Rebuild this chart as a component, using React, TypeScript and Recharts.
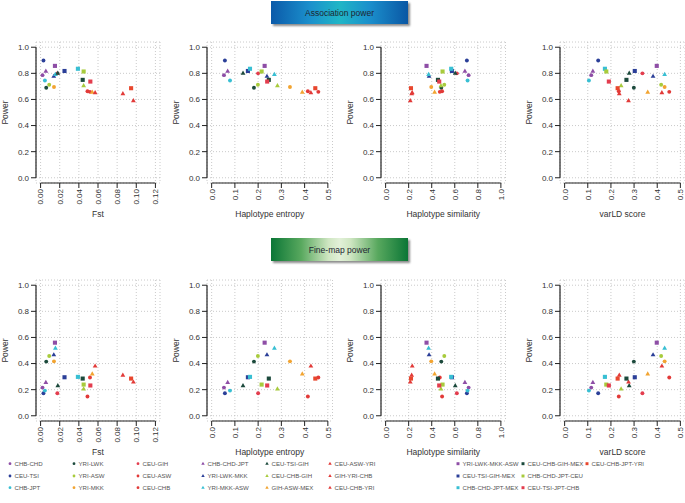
import React from 'react';
import { ScatterChart, Scatter, XAxis, YAxis, CartesianGrid, ReferenceLine } from 'recharts';

// ---------- data ----------
const groups = [
  'CHB-CHD', 'CEU-TSI', 'CHB-JPT', 'YRI-LWK', 'YRI-ASW', 'YRI-MKK', 'CEU-GIH', 'CEU-ASW', 'CEU-CHB',
  'CHB-CHD-JPT', 'YRI-LWK-MKK', 'YRI-MKK-ASW', 'CEU-TSI-GIH', 'CEU-CHB-GIH', 'GIH-ASW-MEX', 'CEU-ASW-YRI', 'GIH-YRI-CHB', 'CEU-CHB-YRI',
  'YRI-LWK-MKK-ASW', 'CEU-TSI-GIH-MEX', 'CHB-CHD-JPT-MEX', 'CEU-CHB-GIH-MEX', 'CHB-CHD-JPT-CEU', 'CEU-TSI-JPT-CHB', 'CEU-CHB-JPT-YRI',
];

const fst = [
  0.002, 0.003, 0.0045, 0.0059, 0.009, 0.014, 0.0175, 0.049, 0.0516,
  0.0055, 0.0138, 0.0155, 0.018, 0.045, 0.054, 0.057, 0.086, 0.097,
  0.015, 0.025, 0.039, 0.044, 0.045, 0.052, 0.0946,
];
const entropy = [
  0.053, 0.057, 0.079, 0.182, 0.199, 0.337, 0.2, 0.414, 0.459,
  0.069, 0.238, 0.27, 0.135, 0.283, 0.39, 0.427, null, null,
  0.228, 0.156, 0.165, 0.246, 0.215, 0.239, 0.446,
];
const similarity = [
  0.72, 0.705, 0.711, 0.483, 0.509, 0.396, 0.618, 0.49, 0.47,
  0.688, 0.377, 0.373, 0.604, 0.48, 0.425, 0.231, 0.226, 0.214,
  0.355, 0.575, 0.569, 0.454, 0.494, 0.465, 0.22,
];
const varld = [
  0.115, 0.145, 0.105, 0.299, 0.417, 0.432, 0.336, 0.234, 0.452,
  0.122, 0.382, 0.432, 0.279, 0.244, 0.359, 0.42, 0.236, 0.276,
  0.398, 0.303, 0.174, 0.267, 0.18, 0.191, 0.229,
];
const assocPower = [
  0.786, 0.898, 0.745, 0.69, 0.712, 0.695, 0.8, 0.663, 0.658,
  0.816, 0.776, 0.79, 0.8, 0.704, 0.655, 0.651, 0.643, 0.589,
  0.857, 0.818, 0.835, 0.75, 0.814, 0.737, 0.686,
];
const finemapPower = [
  0.216, 0.173, 0.193, 0.415, 0.458, 0.417, 0.173, 0.148, 0.293,
  0.254, 0.466, 0.517, 0.229, 0.204, 0.32, 0.38, 0.31, 0.257,
  0.56, 0.295, 0.298, 0.285, 0.239, 0.232, 0.285,
];

const fstTicks = [0, 0.02, 0.04, 0.06, 0.08, 0.1, 0.12];
const entropyTicks = [0, 0.1, 0.2, 0.3, 0.4, 0.5];
const similarityTicks = [0, 0.2, 0.4, 0.6, 0.8, 1.0];
const varldTicks = [0, 0.1, 0.2, 0.3, 0.4, 0.5];
const powerTicks = [0, 0.2, 0.4, 0.6, 0.8, 1.0];

// ---------- styles ----------
const PURPLE = '#8e4ea6';
const BLUE = '#2b3f98';
const CYAN = '#38bfd3';
const DKGREEN = '#1c4a3c';
const LTGREEN = '#a8cb3c';
const ORANGE = '#f2a431';
const RED = '#e23a38';
const RED2 = '#e33d4e';
const RED3 = '#e8472e';

const groupColor = [
  PURPLE, BLUE, CYAN, DKGREEN, LTGREEN, ORANGE, RED2, RED, RED,
  PURPLE, BLUE, CYAN, DKGREEN, LTGREEN, ORANGE, RED, RED, RED,
  PURPLE, BLUE, CYAN, DKGREEN, LTGREEN, RED2, RED3,
];
const groupShape = [
  'c', 'c', 'c', 'c', 'c', 'c', 'c', 'c', 'c',
  't', 't', 't', 't', 't', 't', 't', 't', 't',
  's', 's', 's', 's', 's', 's', 's',
];

const FONT = '"Liberation Sans", Arial, Helvetica, sans-serif';

function mark(shape: string, cx: number, cy: number, color: string, k: number) {
  if (shape === 'c') return <circle cx={cx} cy={cy} r={1.95 * k} fill={color} />;
  if (shape === 's') {
    const s = 4.1 * k;
    return <rect x={cx - s / 2} y={cy - s / 2} width={s} height={s} fill={color} />;
  }
  const s = 4.8 * k;
  const pts = `${cx},${cy - s * 0.577} ${cx - s / 2},${cy + s * 0.289} ${cx + s / 2},${cy + s * 0.289}`;
  return <polygon points={pts} fill={color} />;
}

const YW = 40;
const XH = 45;
const MT = 5;
const MR = 5;
const PH = 141;

type PanelProps = {
  left: number;
  top: number;
  width: number;
  xVals: (number | null)[];
  yVals: number[];
  xTicks: number[];
  digits: number;
  xTitle: string;
};

function Panel({ left, top, width, xVals, yVals, xTicks, digits, xTitle }: PanelProps) {
  const xMin = xTicks[0];
  const xMax = xTicks[xTicks.length - 1];
  const pad = (xMax - xMin) * 0.04;
  const domX: [number, number] = [xMin - pad, xMax + pad];
  const domY: [number, number] = [-0.04, 1.04];
  const data = groups
    .map((name, i) => ({ g: i, name, x: xVals[i], y: yVals[i] }))
    .filter((d) => d.x !== null && d.x !== undefined);

  const xTick = (p: any) => {
    const { x, y, payload } = p;
    return (
      <text
        x={0}
        y={0}
        transform={`translate(${x},${y}) rotate(-90)`}
        textAnchor="end"
        dy="0.36em"
        fontSize={8}
        fill="#333"
        fontFamily={FONT}
      >
        {Number(payload.value).toFixed(digits)}
      </text>
    );
  };

  return (
    <div style={{ position: 'absolute', left: left - YW, top: top - MT }}>
      <ScatterChart
        width={YW + width + MR}
        height={MT + PH + XH}
        margin={{ top: MT, right: MR, bottom: 0, left: 0 }}
      >
        <CartesianGrid stroke="#bdbdbd" strokeDasharray="1 2" strokeWidth={0.8} />
        <XAxis
          type="number"
          dataKey="x"
          domain={domX}
          ticks={xTicks}
          interval={0}
          allowDataOverflow
          height={XH}
          axisLine={false}
          tickLine={{ stroke: '#222', strokeWidth: 1 }}
          tickSize={5}
          tickMargin={1}
          tick={xTick}
          label={{ value: xTitle, position: 'insideBottom', offset: 11, fontSize: 8.5, fill: '#333', fontFamily: FONT }}
        />
        <YAxis
          type="number"
          dataKey="y"
          domain={domY}
          ticks={powerTicks}
          interval={0}
          allowDataOverflow
          width={YW}
          axisLine={false}
          tickLine={{ stroke: '#222', strokeWidth: 1 }}
          tickSize={5}
          tickMargin={2}
          tick={{ fontSize: 8, fill: '#333', fontFamily: FONT }}
          tickFormatter={(v: number) => v.toFixed(1)}
          label={{ value: 'Power', angle: -90, position: 'center', dx: -11, fontSize: 8.5, fill: '#333', fontFamily: FONT }}
        />
        <ReferenceLine
          segment={[{ x: domX[0], y: 0 }, { x: domX[0], y: 1 }]}
          stroke="#222"
          strokeWidth={1.2}
          ifOverflow="visible"
        />
        <ReferenceLine
          segment={[{ x: xMin, y: domY[0] }, { x: xMax, y: domY[0] }]}
          stroke="#222"
          strokeWidth={1.2}
          ifOverflow="visible"
        />
        <Scatter
          data={data}
          isAnimationActive={false}
          shape={(p: any) => mark(groupShape[p.payload.g], p.cx, p.cy, groupColor[p.payload.g], 1)}
        />
      </ScatterChart>
    </div>
  );
}

const PANEL_LEFT = [36, 206.5, 381, 559.5];
const PANEL_W = [124, 125.5, 124.5, 125];
const ROW_TOP = [41.5, 280];

const xMeasures = [
  { vals: fst, ticks: fstTicks, digits: 2, title: 'Fst' },
  { vals: entropy, ticks: entropyTicks, digits: 1, title: 'Haplotype entropy' },
  { vals: similarity, ticks: similarityTicks, digits: 1, title: 'Haplotype similarity' },
  { vals: varld, ticks: varldTicks, digits: 1, title: 'varLD score' },
];
const powerRows = [assocPower, finemapPower];

const LEGEND_COL_X = [10, 74, 138, 203, 267, 330, 458, 523, 587];
const LEGEND_ROW_Y = [13.7, 26, 37.7];

function Legend() {
  return (
    <svg width={685} height={53} style={{ position: 'absolute', left: 0, top: 450 }}>
      {groups.map((name, i) => {
        const col = Math.floor(i / 3);
        const row = i % 3;
        const x = LEGEND_COL_X[col];
        const y = LEGEND_ROW_Y[row];
        return (
          <g key={name}>
            {mark(groupShape[i], x, y, groupColor[i], 0.72)}
            <text x={x + 4.5} y={y} dy="0.35em" fontSize={6.1} fill="#555" fontFamily={FONT}>
              {name}
            </text>
          </g>
        );
      })}
    </svg>
  );
}

function Banner({ top, text, bg }: { top: number; text: string; bg: string }) {
  return (
    <div
      style={{
        position: 'absolute',
        left: 271,
        top,
        width: 137,
        height: 23,
        background: bg,
        boxShadow: '2px 2px 2px rgba(0,0,0,0.45)',
        fontFamily: FONT,
        fontSize: 8.5,
        color: '#1d2630',
        display: 'flex',
        alignItems: 'center',
        justifyContent: 'center',
      }}
    >
      {text}
    </div>
  );
}

export default function App() {
  return (
    <div
      style={{
        position: 'absolute',
        left: 0,
        top: 0,
        width: 685,
        height: 503,
        overflow: 'hidden',
        background: '#fff',
      }}
    >
      <Banner
        top={1}
        text="Association power"
        bg="linear-gradient(to right, #0b5aa9 0%, #1b8fcc 28%, #20b6c6 50%, #1b8fcc 72%, #0a57a4 100%)"
      />
      <Banner
        top={238}
        text="Fine-map power"
        bg="linear-gradient(to right, #0b7636 0%, #58a85e 22%, #cfe6c2 42%, #e2f0d8 50%, #cfe6c2 58%, #58a85e 78%, #0b7636 100%)"
      />
      {powerRows.map((pw, r) =>
        xMeasures.map((m, c) => (
          <Panel
            key={`${r}-${c}`}
            left={PANEL_LEFT[c]}
            top={ROW_TOP[r]}
            width={PANEL_W[c]}
            xVals={m.vals}
            yVals={pw}
            xTicks={m.ticks}
            digits={m.digits}
            xTitle={m.title}
          />
        ))
      )}
      <Legend />
    </div>
  );
}
